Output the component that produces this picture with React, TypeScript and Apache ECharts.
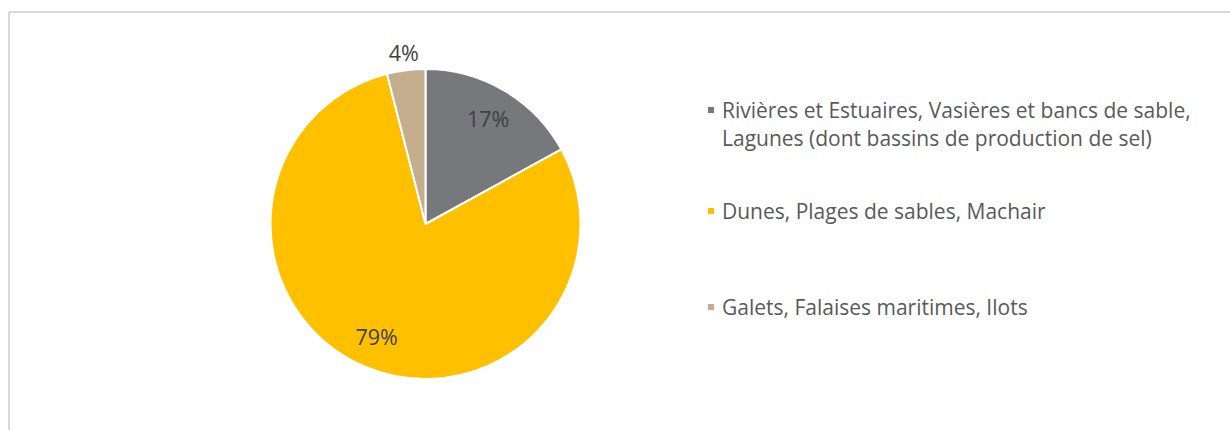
import React, { useEffect, useRef } from "react";
import * as echarts from "echarts";

const categories = [
  "Rivières et Estuaires, Vasières et bancs de sable,\nLagunes (dont bassins de production de sel)",
  "Dunes, Plages de sables, Machair",
  "Galets, Falaises maritimes, Ilots",
];
const values = [17, 79, 4];
const colors = ["#77787B", "#FFC000", "#C4AE8D"];
const insideLabel = [true, true, false];

const FONT = "'Open Sans', Roboto, 'Liberation Sans', sans-serif";

export default function App() {
  const ref = useRef<HTMLDivElement>(null);
  useEffect(() => {
    if (!ref.current) return;
    const chart = echarts.init(ref.current, null, { renderer: "svg" });
    const cx = 425.5;
    const cy = 224;
    const R = 155;
    const legendTops = [68, 198, 294];
    const lineHeights = [28, 26, 26];
    const labelStyle = {
      position: "inside",
      formatter: (p: any) => `${p.value}%`,
      fontFamily: FONT,
      fontSize: 21.5,
      color: "#404040",
    };
    chart.setOption({
      animation: false,
      backgroundColor: "#ffffff",
      graphic: [
        { type: "line", shape: { x1: 9, y1: 12, x2: 1230, y2: 12 }, style: { stroke: "#d9d9d9", lineWidth: 2 } },
        { type: "line", shape: { x1: 9, y1: 12, x2: 9, y2: 430 }, style: { stroke: "#d9d9d9", lineWidth: 2 } },
      ],
      legend: categories.map((name, i) => ({
        orient: "vertical",
        left: 706,
        top: legendTops[i],
        padding: 0,
        itemWidth: 8,
        itemHeight: 8,
        icon: "rect",
        selectedMode: false,
        data: [{ name, itemStyle: { color: colors[i] } }],
        formatter: (n: string) => (n.indexOf("\n") >= 0 ? "\n" + n : n),
        textStyle: {
          fontFamily: FONT,
          fontSize: 21,
          lineHeight: lineHeights[i],
          color: "#595959",
          padding: [0, 0, 0, 2],
        },
      })),
      series: [
        {
          type: "pie",
          center: [cx, cy],
          radius: [0, R],
          startAngle: 90,
          clockwise: true,
          silent: true,
          label: { show: false },
          labelLine: { show: false },
          itemStyle: { borderColor: "#ffffff", borderWidth: 2 },
          data: categories.map((name, i) => ({ name, value: values[i], itemStyle: { color: colors[i] } })),
        },
        {
          type: "pie",
          center: [cx, cy],
          radius: [100, 140],
          startAngle: 90,
          silent: true,
          z: 5,
          itemStyle: { color: "rgba(0,0,0,0)" },
          labelLine: { show: false },
          label: labelStyle,
          data: values.map((v, i) => ({
            name: "in" + i,
            value: v,
            label: { show: insideLabel[i] },
          })),
        },
        {
          type: "pie",
          center: [cx, cy],
          radius: [157, 183],
          startAngle: 90,
          silent: true,
          z: 5,
          itemStyle: { color: "rgba(0,0,0,0)" },
          labelLine: { show: false },
          label: labelStyle,
          data: values.map((v, i) => ({
            name: "out" + i,
            value: v,
            label: { show: !insideLabel[i] },
          })),
        },
      ],
    });
    return () => chart.dispose();
  }, []);
  return (
    <div
      ref={ref}
      style={{ position: "fixed", left: 0, top: 0, width: 1230, height: 430 }}
    />
  );
}
